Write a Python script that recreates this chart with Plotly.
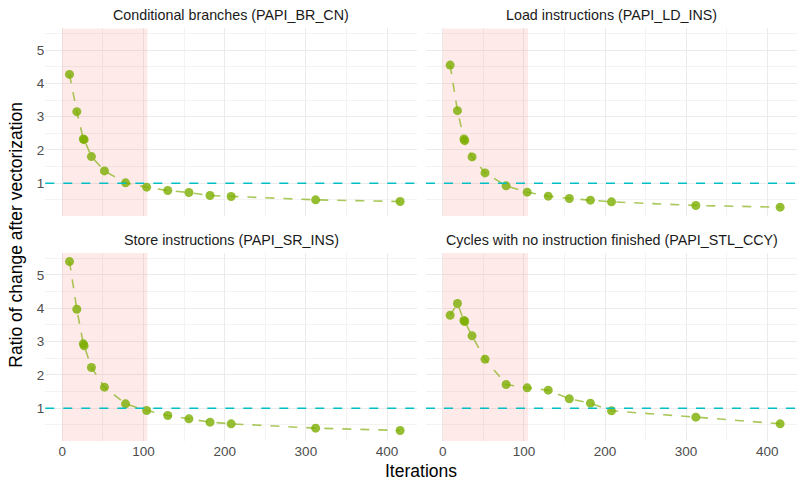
import plotly.graph_objects as go

iterations = [9, 18, 26, 27, 36, 52, 78, 104, 130, 156, 182, 208, 312, 416]
titles = [
    "Conditional branches (PAPI_BR_CN)",
    "Load instructions (PAPI_LD_INS)",
    "Store instructions (PAPI_SR_INS)",
    "Cycles with no instruction finished (PAPI_STL_CCY)",
]
br_cn = [4.27, 3.15, 2.33, 2.31, 1.80, 1.37, 1.01, 0.88, 0.78, 0.72, 0.63, 0.60, 0.50, 0.45]
ld_ins = [4.55, 3.18, 2.33, 2.28, 1.79, 1.31, 0.92, 0.73, 0.61, 0.54, 0.49, 0.44, 0.33, 0.28]
sr_ins = [5.40, 3.97, 2.93, 2.87, 2.22, 1.63, 1.13, 0.93, 0.78, 0.68, 0.58, 0.53, 0.40, 0.33]
stl_ccy = [3.79, 4.14, 3.63, 3.60, 3.17, 2.47, 1.71, 1.61, 1.54, 1.28, 1.15, 0.92, 0.73, 0.53]
series = [br_cn, ld_ins, sr_ins, stl_ccy]

region_x = [0, 105]
ref_y = 1

W, H = 797, 482
YR = [0.014, 5.657]
xdom = [[45.3 / W, 417 / W], [426 / W, 797 / W]]
ydom_top = [(H - 216) / H, (H - 28.3) / H]
ydom_bot = [(H - 441) / H, (H - 253) / H]
ydoms = [ydom_top, ydom_top, ydom_bot, ydom_bot]
xdoms = [xdom[0], xdom[1], xdom[0], xdom[1]]

font = "Liberation Sans, Arial, sans-serif"
fig = go.Figure()
layout = dict(
    width=W, height=H, margin=dict(l=0, r=0, t=0, b=0),
    paper_bgcolor="white", plot_bgcolor="white", showlegend=False,
    font=dict(family=font),
)
shapes = []
annotations = []
for i in range(4):
    n = i + 1
    xa = "x" if n == 1 else f"x{n}"
    ya = "y" if n == 1 else f"y{n}"
    fig.add_trace(go.Scatter(
        x=[region_x[0], region_x[1], region_x[1], region_x[0], region_x[0]],
        y=[YR[0], YR[0], YR[1], YR[1], YR[0]], mode="lines", fill="toself",
        fillcolor="rgba(248,118,109,0.15)", line=dict(width=0), xaxis=xa, yaxis=ya,
        hoverinfo="skip",
    ))
    fig.add_trace(go.Scatter(
        x=iterations, y=series[i], mode="lines+markers", xaxis=xa, yaxis=ya,
        line=dict(color="rgba(134,176,20,0.7)", width=1.6, dash="dash"),
        marker=dict(color="rgba(124,174,0,0.8)", size=9, line=dict(width=0)),
    ))
    bottom = i >= 2
    left = i % 2 == 0
    layout[f"xaxis{'' if n == 1 else n}"] = dict(
        domain=xdoms[i], anchor=ya, range=[-20.8, 436.8],
        tick0=0, dtick=100, showgrid=True, gridcolor="#EBEBEB", gridwidth=1.1,
        minor=dict(dtick=50, tick0=0, showgrid=True, gridcolor="#F3F3F3", gridwidth=0.6),
        zeroline=False, showline=False, ticks="", showticklabels=bottom,
        tickfont=dict(size=13.5, color="#4D4D4D", family=font), automargin=False,
    )
    layout[f"yaxis{'' if n == 1 else n}"] = dict(
        domain=ydoms[i], anchor=xa, range=YR,
        tick0=0, dtick=1, showgrid=True, gridcolor="#EBEBEB", gridwidth=1.1,
        minor=dict(dtick=0.5, tick0=0, showgrid=True, gridcolor="#F3F3F3", gridwidth=0.6),
        zeroline=False, showline=False, ticks="", showticklabels=left,
        tickfont=dict(size=13.5, color="#4D4D4D", family=font), automargin=False,
    )
    shapes.append(dict(
        type="line", xref=f"{xa} domain", yref=ya, x0=0, x1=1, y0=ref_y, y1=ref_y,
        line=dict(color="#00BFC4", width=1.5, dash="dash"), layer="above",
    ))
    annotations.append(dict(
        text=titles[i], xref="paper", yref="paper",
        x=(xdoms[i][0] + xdoms[i][1]) / 2, y=ydoms[i][1], yshift=3,
        xanchor="center", yanchor="bottom", showarrow=False,
        font=dict(size=14.3, color="#1A1A1A", family=font),
    ))

annotations.append(dict(
    text="Iterations", xref="paper", yref="paper", x=(45.3 + 797) / 2 / W, y=0,
    yshift=-1, xanchor="center", yanchor="bottom", showarrow=False,
    font=dict(size=17.5, color="black", family=font),
))
annotations.append(dict(
    text="Ratio of change after vectorization", xref="paper", yref="paper",
    x=0, xshift=4, y=(ydom_bot[0] + ydom_top[1]) / 2, textangle=-90,
    xanchor="left", yanchor="middle", showarrow=False,
    font=dict(size=17.5, color="black", family=font),
))
layout["shapes"] = shapes
layout["annotations"] = annotations
fig.update_layout(**layout)
fig.write_html("out.html")
